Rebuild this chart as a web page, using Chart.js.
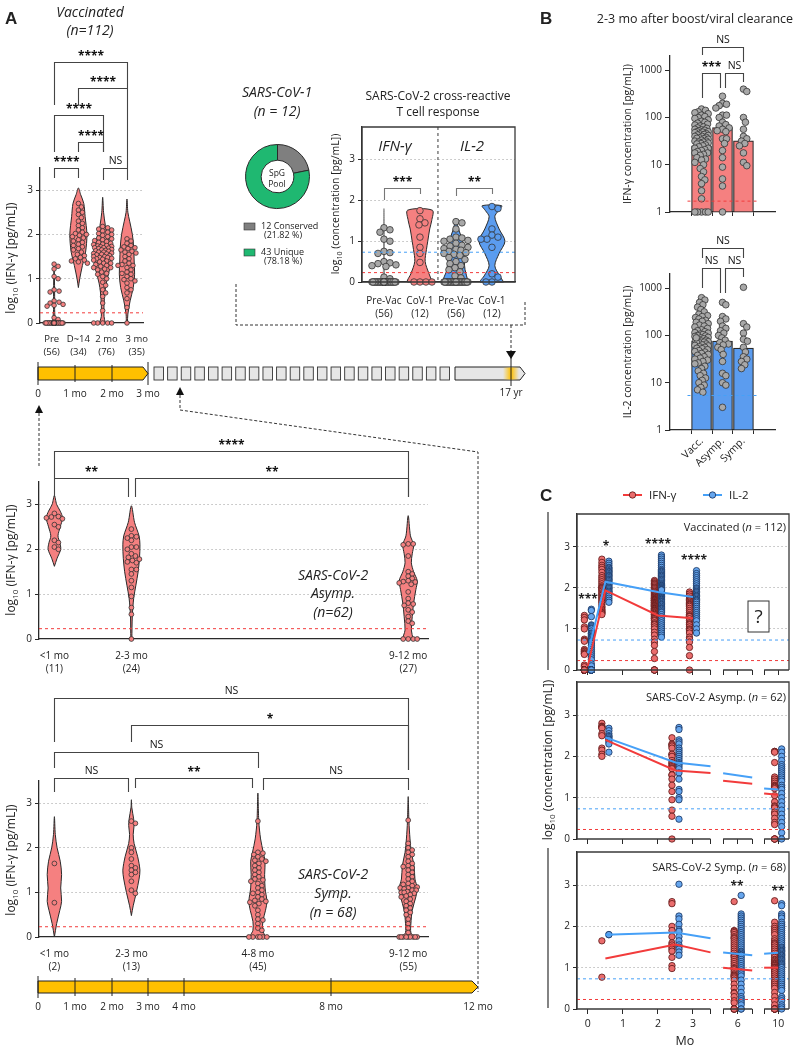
<!DOCTYPE html>
<html lang="en">
<head>
<meta charset="UTF-8">
<title>SARS-CoV-2 T cell responses</title>
<style>
  body { margin: 0; background: #fff; }
  #fig { position: relative; width: 798px; height: 1050px; overflow: hidden; }
  #fig canvas { position: absolute; left: 0; top: 0; }
  #deco { position: absolute; left: 0; top: 0; z-index: 10; pointer-events: none; }
  #deco text { font-family: 'Open Sans', sans-serif; fill: #222; }
</style>
<script src="https://cdn.jsdelivr.net/npm/chart.js"></script>
</head>
<body>
<div id="fig">
<svg id="deco" width="798" height="1050">
  <defs>
    <linearGradient id="glow" x1="0" x2="1" y1="0" y2="0">
      <stop offset="0" stop-color="#ffc000" stop-opacity="0"/>
      <stop offset="0.5" stop-color="#ffc000" stop-opacity="1"/>
      <stop offset="1" stop-color="#ffc000" stop-opacity="0"/>
    </linearGradient>
  </defs>
  <!-- panel letters -->
  <g font-weight="bold" font-size="17">
    <text x="5" y="24" style="font-family: 'Liberation Sans', Arial, sans-serif">A</text>
    <text x="540" y="24" style="font-family: 'Liberation Sans', Arial, sans-serif">B</text>
    <text x="540" y="501" style="font-family: 'Liberation Sans', Arial, sans-serif">C</text>
  </g>
  <!-- italic titles -->
  <g font-style="italic" font-size="14" text-anchor="middle">
    <text x="90" y="17">Vaccinated</text>
    <text x="90" y="35">(n=112)</text>
    <text x="277" y="97">SARS-CoV-1</text>
    <text x="277" y="116">(n = 12)</text>
    <text x="395" y="151" font-size="15">IFN-γ</text>
    <text x="472" y="151" font-size="15">IL-2</text>
    <text x="333" y="580">SARS-CoV-2</text>
    <text x="333" y="598">Asymp.</text>
    <text x="333" y="617">(n=62)</text>
    <text x="333" y="879">SARS-CoV-2</text>
    <text x="333" y="898">Symp.</text>
    <text x="333" y="917">(n = 68)</text>
  </g>
  <g text-anchor="middle" font-size="12">
    <text x="438" y="100">SARS-CoV-2 cross-reactive</text>
    <text x="438" y="116">T cell response</text>
    <text x="695" y="23" font-size="12.5">2-3 mo after boost/viral clearance</text>
    <text x="277" y="176" font-size="8.5">SpG</text>
    <text x="277" y="187" font-size="8.5">Pool</text>
  </g>
  <!-- donut legend -->
  <rect x="244" y="223" width="11" height="7" fill="#7f7f7f" stroke="#333" stroke-width="0.6"/>
  <rect x="244" y="249" width="11" height="7" fill="#1fb871" stroke="#333" stroke-width="0.6"/>
  <g font-size="9">
    <text x="261" y="229">12 Conserved</text>
    <text x="264" y="238">(21.82 %)</text>
    <text x="261" y="255">43 Unique</text>
    <text x="264" y="264">(78.18 %)</text>
  </g>
  <!-- y titles -->
  <g text-anchor="middle" font-size="12">
    <text transform="translate(15,258) rotate(-90)">log<tspan font-size="8" dy="3">10</tspan><tspan dy="-3"> (IFN-γ [pg/mL])</tspan></text>
    <text transform="translate(15,560) rotate(-90)">log<tspan font-size="8" dy="3">10</tspan><tspan dy="-3"> (IFN-γ [pg/mL])</tspan></text>
    <text transform="translate(15,860) rotate(-90)">log<tspan font-size="8" dy="3">10</tspan><tspan dy="-3"> (IFN-γ [pg/mL])</tspan></text>
    <text transform="translate(339,204) rotate(-90)" font-size="10.5">log<tspan font-size="7" dy="3">10</tspan><tspan dy="-3"> (concentration [pg/mL])</tspan></text>
    <text transform="translate(631,134) rotate(-90)" font-size="10.5">IFN-γ concentration [pg/mL])</text>
    <text transform="translate(631,352) rotate(-90)" font-size="10.5">IL-2 concentration [pg/mL])</text>
    <text transform="translate(552,760) rotate(-90)">log<tspan font-size="8" dy="3">10</tspan><tspan dy="-3"> (concentration [pg/mL])</tspan></text>
  </g>
  <path d="M548,512 V670 M548,848 V1008" stroke="#333" stroke-width="1.2" fill="none"/>

  <!-- top timeline -->
  <g id="squares" fill="#e6e6e6" stroke="#333" stroke-width="0.9"></g>
  <g stroke="#222" stroke-width="1">
    <polygon points="38,367 143,367 148,373.5 143,380 38,380" fill="#ffc000"/>
    <polygon points="455,367 520,367 525,373.5 520,380 455,380" fill="#e6e6e6"/>
  </g>
  <rect x="503" y="367.5" width="16" height="12" fill="url(#glow)"/>
  <g stroke="#222" stroke-width="1">
    <line x1="38" y1="362" x2="38" y2="385"/>
    <line x1="75" y1="365" x2="75" y2="382"/>
    <line x1="112" y1="365" x2="112" y2="382"/>
    <line x1="148" y1="362" x2="148" y2="385"/>
    <line x1="511" y1="354" x2="511" y2="386"/>
  </g>
  <g font-size="10" text-anchor="middle">
    <text x="38" y="397">0</text>
    <text x="75" y="397">1 mo</text>
    <text x="112" y="397">2 mo</text>
    <text x="148" y="397">3 mo</text>
    <text x="511" y="396">17 yr</text>
  </g>

  <!-- bottom timeline -->
  <polygon points="38,981 472,981 478,987 472,993 38,993" fill="#ffc000" stroke="#222" stroke-width="1"/>
  <g stroke="#222" stroke-width="1">
    <line x1="38" y1="976" x2="38" y2="998"/>
    <line x1="75" y1="978" x2="75" y2="996"/>
    <line x1="112" y1="978" x2="112" y2="996"/>
    <line x1="148" y1="978" x2="148" y2="996"/>
    <line x1="184" y1="978" x2="184" y2="996"/>
    <line x1="331" y1="978" x2="331" y2="996"/>
  </g>
  <g font-size="10" text-anchor="middle">
    <text x="38" y="1010">0</text>
    <text x="75" y="1010">1 mo</text>
    <text x="112" y="1010">2 mo</text>
    <text x="148" y="1010">3 mo</text>
    <text x="184" y="1010">4 mo</text>
    <text x="331" y="1010">8 mo</text>
    <text x="478" y="1010">12 mo</text>
  </g>

  <!-- dashed connectors and arrows -->
  <g fill="none" stroke="#333" stroke-width="1" stroke-dasharray="3,2">
    <path d="M236,284 V325 H525 V300"/>
    <path d="M511,325 V351"/>
    <path d="M39,413 V467"/>
    <path d="M180,395 V410 L478,452 V992"/>
  </g>
  <g fill="#111">
    <polygon points="506,351 516,351 511,359"/>
    <polygon points="35,413 43,413 39,405"/>
    <polygon points="176,395 184,395 180,387"/>
  </g>

  <!-- panel C legend and labels -->
  <line x1="623" y1="495" x2="642" y2="495" stroke="#f23b3b" stroke-width="2"/>
  <circle cx="632.5" cy="495" r="3.2" fill="#ea6d6d" stroke="#5b1414" stroke-width="0.8"/>
  <line x1="703" y1="495" x2="722" y2="495" stroke="#46a0f7" stroke-width="2"/>
  <circle cx="712.5" cy="495" r="3.2" fill="#66a6ee" stroke="#15305c" stroke-width="0.8"/>
  <g font-size="11.5">
    <text x="649" y="499">IFN-γ</text>
    <text x="729" y="499">IL-2</text>
  </g>
  <g font-size="11" text-anchor="end">
    <text x="786" y="531">Vaccinated (<tspan font-style="italic">n</tspan> = 112)</text>
    <text x="786" y="701">SARS-CoV-2 Asymp. (<tspan font-style="italic">n</tspan> = 62)</text>
    <text x="786" y="871">SARS-CoV-2 Symp. (<tspan font-style="italic">n</tspan> = 68)</text>
  </g>
  <g font-size="12" font-weight="bold" text-anchor="middle">
    <text x="588" y="603">***</text>
    <text x="606" y="550">*</text>
    <text x="658" y="548">****</text>
    <text x="694" y="564">****</text>
    <text x="737" y="890">**</text>
    <text x="778" y="895">**</text>
  </g>
  <rect x="748" y="601" width="21" height="31" fill="#fff" stroke="#333" stroke-width="1"/>
  <text x="758.5" y="623" font-size="19" text-anchor="middle">?</text>
  <text x="685" y="1045" font-size="12.5" text-anchor="middle">Mo</text>
</svg>
</div>

<script>
// ---------- data (log10 pg/mL) ----------
const IFN_LOD = 0.23;
const IL2_LOD = 0.73;

// Vaccinated cohort, IFN-γ
const vacIfnPre = [1.33,1.28,1.22,1.05,1.0,0.75,0.72,0.7,0.5,0.47,0.45,0.42,0.4,0.38,0.12,0.08,
  0,0,0,0,0,0,0,0,0,0, 0,0,0,0,0,0,0,0,0,0, 0,0,0,0,0,0,0,0,0,0, 0,0,0,0,0,0,0,0,0,0];
const vacIfnD14 = [2.7,2.62,2.55,2.5,2.45,2.38,2.3,2.25,2.2,2.15, 2.1,2.05,2.02,2.0,1.98,1.95,1.92,1.88,1.85,1.82,
  1.78,1.75,1.72,1.68,1.65,1.6,1.55,1.52,1.48,1.45, 1.42,1.4,1.38,1.35];
const vacIfn2mo = [2.18,2.15,2.12,2.1,2.08,2.05,2.02,2.0,1.98,1.95, 1.92,1.9,1.88,1.86,1.84,1.82,1.8,1.78,1.77,1.75,
  1.74,1.73,1.72,1.7,1.7,1.69,1.68,1.66,1.65,1.64, 1.63,1.62,1.6,1.6,1.58,1.57,1.56,1.55,1.54,1.52,
  1.5,1.5,1.48,1.48,1.46,1.45,1.44,1.42,1.4,1.38, 1.35,1.35,1.32,1.3,1.28,1.25,1.25,1.22,1.2,1.15,
  1.12,1.1,1.05,1.0,0.92,0.85,0.75,0.68,0.6,0.45, 0.28,0,0,0,0,0];
const vacIfn3mo = [1.9,1.85,1.8,1.75,1.72,1.7,1.68,1.65,1.62,1.6, 1.58,1.55,1.5,1.45,1.4,1.35,1.32,1.3,1.3,1.25,
  1.2,1.15,1.12,1.1,1.05,1.0,0.98,0.95,0.9,0.8, 0.75,0.68,0.55,0.35,0];

// Vaccinated cohort, IL-2
const vacIl2Pre = [1.48,1.45,1.3,1.1,1.08,1.05,1.02,1.0,0.95,0.9, 0.88,0.85,0.82,0.8,0.78,0.75,0.72,0.7,0.68,0.65,
  0.6,0.55,0.5,0.45,0.4,0.35,0.3,0.25,0.15,0.1, 0,0,0,0,0,0,0,0,0,0, 0,0,0,0,0,0,0,0,0,0, 0,0,0,0,0,0];
const vacIl2D14 = [2.65,2.6,2.55,2.5,2.48,2.45,2.42,2.4,2.38,2.35, 2.32,2.3,2.28,2.25,2.22,2.2,2.18,2.15,2.12,2.1,
  2.08,2.05,2.02,2.0,1.98,1.95,1.92,1.9,1.88,1.85, 1.8,1.75,1.7,1.65];
const vacIl22mo = [2.8,2.75,2.7,2.65,2.6,2.55,2.5,2.45,2.42,2.4, 2.38,2.35,2.32,2.3,2.28,2.25,2.22,2.2,2.18,2.15,
  2.12,2.1,2.08,2.06,2.05,2.03,2.02,2.0,1.99,1.98, 1.96,1.95,1.93,1.92,1.9,1.89,1.88,1.87,1.86,1.85,
  1.84,1.82,1.8,1.79,1.78,1.76,1.75,1.73,1.72,1.7, 1.68,1.66,1.65,1.62,1.6,1.58,1.55,1.52,1.5,1.48,
  1.45,1.42,1.4,1.35,1.3,1.25,1.2,1.15,1.1,1.05, 1.0,0.95,0.9,0.85,0.8,1.95];
const vacIl23mo = [2.42,2.35,2.3,2.25,2.2,2.15,2.1,2.05,2.0,1.98, 1.95,1.92,1.9,1.88,1.85,1.82,1.8,1.78,1.75,1.72,
  1.7,1.68,1.65,1.6,1.55,1.5,1.45,1.4,1.35,1.3, 1.25,1.2,1.1,1.0,0.9];

// SARS-CoV-1 convalescents (cross-reactive response)
const cov1Ifn = [1.75,1.55,1.45,1.4,1.1,0.85,0.7,0.48,0,0,0,0];
const cov1Il2 = [1.85,1.8,1.3,1.15,1.1,1.05,1.05,0.85,0.2,0.12,0,0];

// SARS-CoV-2 asymptomatic (<1 mo, 2-3 mo, 9-12 mo)
const asIfn1 = [2.8,2.73,2.72,2.7,2.68,2.55,2.5,2.2,2.15,2.05,2.0];
const asIfn2 = [2.45,2.3,2.28,2.25,2.2,2.05,2.05,2.0,1.9,1.85,1.82,1.78,1.75,1.72,1.7,1.55,1.55,1.45,1.3,1.15,0.95,0.7,0.55,0];
const asIfn3 = [2.12,2.12,2.1,1.85,1.5,1.45,1.4,1.35,1.3,1.28,1.27,1.25,1.22,1.05,0.9,0.8,0.78,0.75,0.65,0.6,0.5,0.4,0.35,0,0,0,0];
const asIl21 = [2.68,2.62,2.55,2.5,2.48,2.45,2.42,2.4,2.35,2.3,2.1];
const asIl22 = [2.7,2.65,2.4,2.35,2.3,2.2,2.15,2.1,2.05,2.0,1.95,1.9,1.85,1.82,1.8,1.75,1.7,1.6,1.45,1.2,1.15,1.0,0.95,0.48];
const asIl23 = [2.18,2.1,2.0,1.9,1.8,1.75,1.7,1.65,1.6,1.55,1.5,1.45,1.4,1.3,1.25,1.2,1.1,1.0,0.9,0.8,0.7,0.6,0.5,0.4,0.3,0.15,0];

// SARS-CoV-2 symptomatic (<1 mo, 2-3 mo, 4-8 mo, 9-12 mo)
const syIfn1 = [1.65,0.77];
const syIfn2 = [2.6,2.55,2.0,1.9,1.75,1.6,1.55,1.5,1.45,1.4,1.25,1.05,0.98];
const syIfn3 = [2.6,1.9,1.88,1.85,1.8,1.75,1.72,1.7,1.65,1.6, 1.55,1.5,1.45,1.4,1.35,1.3,1.28,1.25,1.2,1.15,
  1.1,1.05,1.0,0.98,0.95,0.9,0.85,0.82,0.8,0.78, 0.75,0.7,0.6,0.5,0.4,0.38,0.3,0.2,0.15, 0,0,0,0,0,0];
const syIfn4 = [2.62,2.1,2.0,1.95,1.9,1.85,1.8,1.7, 1.65,1.6,1.58,1.55,1.5,1.45,1.4,1.35, 1.3,1.25,1.2,1.18,1.15,1.12,1.1,1.1,
  1.08,1.05,1.05,1.02,1.0,1.0,0.98,0.95, 0.92,0.9,0.85,0.8,0.75,0.7,0.65,0.6, 0.55,0.5,0.4,0.3,0.2,0.1, 0,0,0,0,0,0,0,0,0];
const syIl21 = [1.8,1.8];
const syIl22 = [3.02,2.25,2.18,2.05,1.92,1.88,1.75,1.65,1.55,1.5,1.45,1.38,1.3];
const syIl23 = [2.75,2.3,2.25,2.2,2.15,2.1,2.05,2.0,1.95,1.9, 1.85,1.8,1.75,1.7,1.65,1.6,1.55,1.5,1.45,1.4,
  1.38,1.35,1.32,1.3,1.25,1.2,1.15,1.1,1.05,1.0, 0.95,0.9,0.85,0.8,0.7,0.6,0.5,0.4,0.3,0.25, 0.2,0.15,0.1,0,0];
const syIl24 = [2.55,2.5,2.3,2.25,2.2,2.1,2.05,2.0,1.95,1.9, 1.85,1.8,1.75,1.7,1.65,1.6,1.55,1.5,1.48,1.45,
  1.42,1.4,1.38,1.35,1.32,1.3,1.28,1.25,1.22,1.2, 1.18,1.15,1.12,1.1,1.08,1.05,1.02,1.0,0.95,0.9,
  0.85,0.8,0.75,0.7,0.65,0.6,0.55,0.5,0.45,0.3, 0.25,0.2,0.1,0.05,0];

// violin density profiles: [value, relative half width]
const vacViolins = [
  [[0,0.12],[0.3,0.06],[0.7,0.06],[1.0,0.04],[1.35,0]],
  [[0.8,0],[1.0,0.15],[1.3,0.45],[1.6,0.8],[2.0,0.95],[2.4,0.75],[2.7,0.6],[2.9,0.25],[3.05,0]],
  [[0,0.3],[0.15,0.15],[0.4,0.15],[0.7,0.25],[0.9,0.4],[1.2,0.75],[1.5,0.95],[1.75,0.85],[2.0,0.5],[2.2,0.3],[2.5,0.1],[2.84,0]],
  [[0,0.05],[0.2,0.1],[0.5,0.35],[0.8,0.7],[1.1,0.85],[1.4,0.8],[1.7,0.75],[2.0,0.6],[2.3,0.3],[2.5,0.1],[2.8,0]]
];
const crossViolins = [
  [[0,0.05],[0.5,0.03],[1.0,0.03],[1.8,0]],
  [[0,0.95],[0.2,0.7],[0.5,0.4],[0.8,0.5],[1.0,0.6],[1.3,0.75],[1.5,0.9],[1.76,0.95]],
  [[0,0.95],[0.3,0.7],[0.7,0.6],[1.0,0.5],[1.3,0.2],[1.5,0]],
  [[0,0.9],[0.15,0.6],[0.4,0.22],[0.7,0.55],[1.0,1.0],[1.3,0.55],[1.6,0.22],[1.75,0.5],[1.87,0.75]]
];
const asViolins = [
  [[1.62,0],[1.8,0.3],[2.0,0.7],[2.15,0.6],[2.3,0.4],[2.5,0.65],[2.7,0.9],[2.85,0.65],[3.0,0.25],[3.2,0]],
  [[0,0.05],[0.5,0.1],[0.9,0.25],[1.2,0.5],[1.5,0.75],[1.8,0.9],[2.1,0.95],[2.3,0.85],[2.6,0.35],[2.97,0]],
  [[0,0.55],[0.2,0.35],[0.5,0.45],[0.8,0.6],[1.1,0.85],[1.3,1.0],[1.5,0.6],[1.7,0.35],[1.9,0.45],[2.1,0.6],[2.3,0.25],[2.75,0]]
];
const syViolins = [
  [[0,0],[0.3,0.25],[0.6,0.6],[0.8,0.8],[1.1,0.7],[1.4,0.8],[1.7,0.65],[2.0,0.3],[2.3,0.1],[2.7,0]],
  [[0.48,0],[0.7,0.2],[1.0,0.55],[1.3,0.85],[1.5,0.95],[1.8,0.7],[2.1,0.3],[2.3,0.2],[2.5,0.3],[2.65,0.25],[2.9,0.05],[3.08,0]],
  [[0,0.85],[0.15,0.55],[0.35,0.55],[0.6,0.85],[0.8,1.0],[1.1,0.8],[1.4,0.75],[1.7,0.8],[1.9,0.6],[2.2,0.3],[2.6,0.1],[3.23,0]],
  [[0,0.7],[0.1,0.3],[0.3,0.3],[0.6,0.45],[0.9,0.85],[1.1,1.0],[1.3,0.75],[1.6,0.65],[1.9,0.35],[2.2,0.2],[2.6,0.08],[3.15,0]]
];

// group labels and timing (months)
const vacLabels = [['Pre','(56)'],['D~14','(34)'],['2 mo','(76)'],['3 mo','(35)']];
const vacLabelPos = [-0.1, 1.0, 2.16, 3.4];
const crossLabels = [['Pre-Vac','(56)'],['CoV-1','(12)'],['Pre-Vac','(56)'],['CoV-1','(12)']];
const asLabels = [['<1 mo','(11)'],['2-3 mo','(24)'],['9-12 mo','(27)']];
const syLabels = [['<1 mo','(2)'],['2-3 mo','(13)'],['4-8 mo','(45)'],['9-12 mo','(55)']];
const asMonths = [0.45, 2.55, 10.1];
const syMonths = [0.45, 2.55, 6.0, 10.1];
const vacMonthsC = [0, 0.5, 2, 3];
const asMonthsC = [0.5, 2.5, 10];
const syMonthsC = [0.5, 2.5, 6, 10];

// panel B: geometric means (pg/mL)
const bLabels = ['Vacc.', 'Asymp.', 'Symp.'];
const ifnBarGM = [25, 61, 32];
const il2BarGM = [76, 76, 54];

// donut: SpG pool epitopes
const epitopeLabels = ['Conserved', 'Unique'];
const epitopeCounts = [12, 43];

// panel C fitted trends: [month, log10 value]
const vacIfnTrend = [[[0,0.1],[0.5,1.94],[2,1.33],[3,1.26]]];
const vacIl2Trend = [[[0,0.41],[0.5,2.15],[2,1.9],[3,1.78]]];
const asIfnTrend = [[[0.5,2.4],[2.5,1.66],[3.5,1.6]], [[4,1.41],[8,1.34]], [[9,1.1],[10,1.07]]];
const asIl2Trend = [[[0.5,2.46],[2.5,1.85],[3.5,1.76]], [[4,1.59],[8,1.49]], [[9,1.22],[10,1.2]]];
const syIfnTrend = [[[0.5,1.22],[2.5,1.56],[3.5,1.37]], [[4,1.0],[8,0.93]], [[9,1.0],[10,1.0]]];
const syIl2Trend = [[[0.5,1.8],[2.5,1.85],[3.5,1.71]], [[4,1.37],[8,1.3]], [[9,1.34],[10,1.36]]];
const cTickMonths = [0, 1, 2, 3, 3.5, 4, 6, 8, 9, 10];
const cTickLabels = ['0', '1', '2', '3', '', '', '6', '', '', '10'];

// ---------- drawing ----------
const W = 798, H = 1050;
const INK = '#2a2a2a';
const RED = '#f58080', RED_LINE = '#f23b3b', BLUE = '#5b9cef', BLUE_LINE = '#46a0f7', GREY = '#a8a8a8';
const C_RED = '#ea6d6d', C_BLUE = '#66a6ee';

Chart.defaults.font.family = "'Open Sans', sans-serif";
Chart.defaults.font.size = 10;
Chart.defaults.color = '#222';
Chart.defaults.animation = false;
Chart.defaults.responsive = false;
Chart.defaults.plugins.legend.display = false;
Chart.defaults.plugins.tooltip.enabled = false;

// grey boxes of the timeline
const sq = document.getElementById('squares');
for (let i = 0; i < 22; i++) {
  const r = document.createElementNS('http://www.w3.org/2000/svg', 'rect');
  r.setAttribute('x', 154 + i * 13.62); r.setAttribute('y', 367);
  r.setAttribute('width', 9.5); r.setAttribute('height', 13);
  sq.appendChild(r);
}

function pad(l, t, r, b, yw, xh) {
  return { left: l - yw, top: t, right: W - r, bottom: H - b - xh };
}

function newChart(cfg) {
  const c = document.createElement('canvas');
  c.width = W; c.height = H;
  document.getElementById('fig').appendChild(c);
  return new Chart(c, cfg);
}

// broken C axis: months -> display position
function xmap(m) {
  if (m <= 3.5) return m;
  if (m <= 8) return 3.86 + (m - 4) * 0.2075;
  return 5.03 + (m - 9) * 0.4;
}

// simple beeswarm: horizontal pixel offsets so dots do not pile up
function spread(vals, pxY, d, maxHalf) {
  const placed = [];
  const cands = [0];
  for (let k = 1; k <= maxHalf; k++) cands.push(k, -k);
  return vals.map(v => {
    const py = v * pxY;
    let best = 0, bestGap = -1;
    for (const off of cands) {
      let gap = Infinity;
      for (const p of placed) gap = Math.min(gap, Math.hypot(p[0] - off, p[1] - py));
      if (gap >= d) { best = off; break; }
      if (gap > bestGap) { bestGap = gap; best = off; }
    }
    placed.push([best, py]);
    return best;
  });
}

function swarmPts(vals, center, pxX, pxY, d, maxHalf, toY) {
  const offs = spread(vals, pxY, d, maxHalf);
  return vals.map((v, i) => ({ x: center + offs[i] / pxX, y: toY ? toY(v) : v }));
}

function dots(pts, fill, r, stroke) {
  return { data: pts, showLine: false, pointRadius: r, pointHoverRadius: r, pointBackgroundColor: fill,
           pointBorderColor: stroke || '#333', pointBorderWidth: 0.8, clip: false };
}

function refLine(y, x0, x1, color) {
  return { data: [{ x: x0, y }, { x: x1, y }], showLine: true, borderColor: color, borderWidth: 1,
           borderDash: [3, 3], pointRadius: 0, clip: false };
}

function violin(profile, center, half, fill, stroke) {
  const pts = [];
  profile.forEach(([y, w]) => pts.push({ x: center + w * half, y }));
  profile.slice().reverse().forEach(([y, w]) => pts.push({ x: center - w * half, y }));
  pts.push(pts[0]);
  const clean = pts.filter((p, i) => i === 0 || p.x !== pts[i - 1].x || p.y !== pts[i - 1].y);
  return { data: clean, showLine: true, fill: 'shape', backgroundColor: fill, borderColor: stroke || INK,
           borderWidth: 1, pointRadius: 0, tension: 0.3, clip: false };
}

function trend(seg, color) {
  return { data: seg.map(([m, v]) => ({ x: xmap(m), y: v })), showLine: true, borderColor: color,
           borderWidth: 2, pointRadius: 0, clip: false };
}

function yLin(max, w) {
  return {
    type: 'linear', min: 0, max,
    afterFit: s => { s.width = w; },
    ticks: { stepSize: 1, includeBounds: false, padding: 3 },
    grid: { color: c => (c.tick && c.tick.value > 0 ? '#bdbdbd' : 'rgba(0,0,0,0)'), tickColor: INK, tickLength: 4 },
    border: { color: INK, width: 1.3, dash: [1.5, 2.5] }
  };
}

function yLog(w) {
  return {
    type: 'logarithmic', min: 1, max: 2000,
    afterFit: s => { s.width = w; },
    afterBuildTicks: s => { s.ticks = [1, 10, 100, 1000].map(v => ({ value: v })); },
    ticks: { padding: 3, callback: v => String(v) },
    grid: { drawOnChartArea: false, tickLength: 5, tickColor: INK },
    border: { color: INK, width: 1.3 }
  };
}

function xGroups(min, max, pos, labels, h, padTop, size) {
  return {
    type: 'linear', min, max,
    afterFit: s => { s.height = h; },
    afterBuildTicks: s => { s.ticks = pos.map(v => ({ value: v })); },
    ticks: { autoSkip: false, maxRotation: 0, minRotation: 0, padding: padTop,
             font: { size: size || 10, lineHeight: 1.35 }, callback: (v, i) => labels[i] },
    grid: { display: false },
    border: { color: INK, width: 1.3 }
  };
}

// frames, broken axes, dividers and significance brackets
function decor(o) {
  return {
    id: 'decor',
    afterDatasetsDraw(chart) {
      const ctx = chart.ctx, a = chart.chartArea, xs = chart.scales.x;
      ctx.save();
      ctx.lineWidth = 1.3; ctx.strokeStyle = '#3a3a3a';
      if (o.frame) {
        ctx.beginPath();
        ctx.moveTo(a.left, a.bottom); ctx.lineTo(a.left, a.top); ctx.lineTo(a.right, a.top); ctx.lineTo(a.right, a.bottom);
        if (!o.breaks) ctx.lineTo(a.left, a.bottom);
        ctx.stroke();
      }
      if (o.breaks) {
        ctx.beginPath();
        o.breaks.forEach(([u, v]) => { ctx.moveTo(xs.getPixelForValue(u), a.bottom); ctx.lineTo(xs.getPixelForValue(v), a.bottom); });
        ctx.stroke();
      }
      if (o.divider !== undefined) {
        const x = xs.getPixelForValue(o.divider);
        ctx.setLineDash([3, 3]); ctx.lineWidth = 1;
        ctx.beginPath(); ctx.moveTo(x, a.top); ctx.lineTo(x, a.bottom); ctx.stroke();
        ctx.setLineDash([]);
      }
      (o.brackets || []).forEach(([u, v, y, l1, l2, t]) => {
        const x1 = Math.round(xs.getPixelForValue(u)) + 0.5, x2 = Math.round(xs.getPixelForValue(v)) + 0.5;
        ctx.strokeStyle = o.bracketColor || '#444'; ctx.lineWidth = 1.1;
        ctx.beginPath(); ctx.moveTo(x1, l1); ctx.lineTo(x1, y + 0.5); ctx.lineTo(x2, y + 0.5); ctx.lineTo(x2, l2); ctx.stroke();
        ctx.fillStyle = '#111'; ctx.textAlign = 'center'; ctx.textBaseline = 'alphabetic';
        const star = t.indexOf('*') >= 0;
        ctx.font = star ? "bold 12px 'Open Sans', sans-serif" : "10.5px 'Open Sans', sans-serif";
        ctx.fillText(t, (x1 + x2) / 2, star ? y - 2 : y - 4);
      });
      ctx.restore();
    }
  };
}

// ---- A: vaccinated violins ----
const vacIfn = [vacIfnPre, vacIfnD14, vacIfn2mo, vacIfn3mo];
newChart({
  type: 'scatter',
  data: { datasets: [
    refLine(IFN_LOD, -0.58, 3.66, RED_LINE),
    ...vacIfn.map((g, i) => dots(swarmPts(g, i, 24.3, 44.3, 4.3, 9), RED, 2.3)),
    ...vacViolins.map((p, i) => violin(p, i, 9 / 24.3, RED))
  ] },
  options: {
    layout: { padding: pad(40, 168, 143, 323, 40, 50) },
    scales: { x: xGroups(-0.58, 3.66, vacLabelPos, vacLabels, 50, 2, 9.5), y: yLin(3.5, 40) }
  },
  plugins: [decor({ brackets: [
    [0, 3, 62, 105, 88, '****'], [1, 3, 88, 105, 168, '****'], [0, 2, 115, 152, 152, '****'],
    [1, 2, 142, 152, 152, '****'], [0, 1, 168, 178, 178, '****'], [2, 3, 168, 180, 180, 'NS']
  ] })]
});

// ---- A: donut ----
newChart({
  type: 'doughnut',
  data: { labels: epitopeLabels, datasets: [{ data: epitopeCounts, backgroundColor: ['#7f7f7f', '#1fb871'],
          borderColor: INK, borderWidth: 1 }] },
  options: { cutout: '51%', layout: { padding: { left: 245, top: 144, right: W - 310, bottom: H - 209 } } }
});

// ---- A: cross-reactive violins ----
newChart({
  type: 'scatter',
  data: { datasets: [
    refLine(IL2_LOD, -0.61, 3.64, BLUE_LINE),
    refLine(IFN_LOD, -0.61, 3.64, RED_LINE),
    dots(swarmPts(vacIfnPre, 0, 36, 41, 6, 12), GREY, 3.3),
    dots(swarmPts(cov1Ifn, 1, 36, 41, 6, 12), RED, 3.3),
    dots(swarmPts(vacIl2Pre, 2, 36, 41, 6, 12), GREY, 3.3),
    dots(swarmPts(cov1Il2, 3, 36, 41, 6, 12), BLUE, 3.3),
    violin(crossViolins[0], 0, 13 / 36, '#bbb', '#888'),
    violin(crossViolins[1], 1, 13 / 36, RED),
    violin(crossViolins[2], 2, 13 / 36, BLUE),
    violin(crossViolins[3], 3, 13 / 36, BLUE)
  ] },
  options: {
    layout: { padding: pad(362, 127, 515, 282, 35, 50) },
    scales: { x: xGroups(-0.61, 3.64, [0, 1, 2, 3], crossLabels, 50, 4), y: yLin(3.8, 35) }
  },
  plugins: [decor({ frame: true, divider: 1.5, bracketColor: '#777', brackets: [
    [0, 1, 188, 200, 194, '***'], [2, 3, 188, 196, 194, '**']
  ] })]
});

// ---- A: asymptomatic ----
newChart({
  type: 'scatter',
  data: { datasets: [
    refLine(IFN_LOD, 0.03, 10.64, RED_LINE),
    ...[asIfn1, asIfn2, asIfn3].map((g, i) => dots(swarmPts(g, asMonths[i], 36.67, 44.9, 4.4, 9), RED, 2.4)),
    ...asViolins.map((p, i) => violin(p, asMonths[i], 9 / 36.67, RED))
  ] },
  options: {
    layout: { padding: pad(39, 482, 428, 639, 39, 50) },
    scales: { x: xGroups(0.03, 10.64, asMonths, asLabels, 50, 2), y: yLin(3.5, 39) }
  },
  plugins: [decor({ brackets: [
    [0.45, 10.1, 451, 478, 497, '****'], [0.45, 2.45, 478, 497, 497, '**'], [2.65, 10.1, 478, 497, 497, '**']
  ] })]
});

// ---- A: symptomatic ----
newChart({
  type: 'scatter',
  data: { datasets: [
    refLine(IFN_LOD, 0.03, 10.64, RED_LINE),
    ...[syIfn1, syIfn2, syIfn3, syIfn4].map((g, i) => dots(swarmPts(g, syMonths[i], 36.67, 44.5, 4.4, 9), RED, 2.4)),
    ...syViolins.map((p, i) => violin(p, syMonths[i], 9 / 36.67, RED))
  ] },
  options: {
    layout: { padding: pad(39, 781, 428, 937, 39, 40) },
    scales: { x: xGroups(0.03, 10.64, syMonths, syLabels, 40, 2), y: yLin(3.5, 39) }
  },
  plugins: [decor({ brackets: [
    [0.45, 10.1, 698, 742, 770, 'NS'], [2.55, 10.1, 725, 742, 770, '*'], [0.45, 6.0, 752, 768, 768, 'NS'],
    [0.45, 2.45, 778, 792, 792, 'NS'], [2.65, 5.85, 778, 788, 788, '**'], [6.15, 10.1, 778, 790, 790, 'NS']
  ] })]
});

// ---- B: bars with dots (log scale) ----
function bChart(top, bottom, groups, bars, lod, lodColor, barColor, showLabels, brackets) {
  const xh = showLabels ? 45 : 10;
  return newChart({
    type: 'scatter',
    data: { datasets: [
      refLine(10 ** lod, -0.67, 2.67, lodColor),
      ...groups.map((g, i) => dots(swarmPts(g, i, 31.5, 47, 5.5, 10, v => 10 ** v), GREY, 3.3)),
      { type: 'bar', data: bars.map((v, i) => ({ x: i, y: v })), backgroundColor: barColor, borderColor: INK,
        borderWidth: 1.2, barThickness: 20, base: 1 }
    ] },
    options: {
      layout: { padding: pad(670, top, 775, bottom, 48, xh) },
      scales: {
        x: { type: 'linear', min: -0.67, max: 2.67,
             afterFit: s => { s.height = xh; },
             afterBuildTicks: s => { s.ticks = [0, 1, 2].map(v => ({ value: v })); },
             ticks: { display: showLabels, autoSkip: false, minRotation: 45, maxRotation: 45, padding: 1,
                      font: { size: 10.5 }, callback: (v, i) => bLabels[i] },
             grid: { drawOnChartArea: false, tickLength: 4, tickColor: INK },
             border: { color: INK, width: 1.3 } },
        y: yLog(48)
      }
    },
    plugins: [decor({ brackets })]
  });
}
bChart(56, 212, [vacIfn2mo, asIfn2, syIfn2], ifnBarGM, IFN_LOD, RED_LINE, RED, false,
  [[0, 2, 47, 55, 62, 'NS'], [0, 0.88, 73, 98, 88, '***'], [1.1, 2, 73, 88, 82, 'NS']]);
bChart(274, 430, [vacIl22mo, asIl22, syIl22], il2BarGM, IL2_LOD, BLUE_LINE, BLUE, true,
  [[0, 2, 248, 258, 258, 'NS'], [0, 0.9, 268, 288, 293, 'NS'], [1.1, 2, 268, 293, 277, 'NS']]);

// ---- C: kinetics ----
function cChart(top, bottom, ifnCols, il2Cols, months, ifnTrend, il2Trend, showX) {
  const xh = showX ? 40 : 8;
  return newChart({
    type: 'scatter',
    data: { datasets: [
      refLine(IL2_LOD, -0.31, 5.74, BLUE_LINE),
      refLine(IFN_LOD, -0.31, 5.74, RED_LINE),
      ...ifnTrend.map(seg => trend(seg, RED_LINE)),
      ...il2Trend.map(seg => trend(seg, BLUE_LINE)),
      ...ifnCols.map((g, i) => dots(g.map(v => ({ x: xmap(months[i]) - 0.1, y: v })), C_RED, 3.2, '#5b1414')),
      ...il2Cols.map((g, i) => dots(g.map(v => ({ x: xmap(months[i]) + 0.1, y: v })), C_BLUE, 3.2, '#15305c'))
    ] },
    options: {
      layout: { padding: pad(577, top, 789, bottom, 20, xh) },
      scales: {
        x: { type: 'linear', min: -0.31, max: 5.74,
             afterFit: s => { s.height = xh; },
             afterBuildTicks: s => { s.ticks = cTickMonths.map(m => ({ value: xmap(m) })); },
             ticks: { display: showX, autoSkip: false, maxRotation: 0, padding: 4, font: { size: 10.5 },
                      callback: (v, i) => cTickLabels[i] },
             grid: { drawOnChartArea: false, tickLength: 5, tickColor: INK },
             border: { display: false } },
        y: yLin(3.8, 20)
      }
    },
    plugins: [decor({ frame: true, breaks: [[-0.31, xmap(3.5)], [xmap(4), xmap(8)], [xmap(9), 5.74]] })]
  });
}
cChart(514, 670, vacIfn, [vacIl2Pre, vacIl2D14, vacIl22mo, vacIl23mo], vacMonthsC, vacIfnTrend, vacIl2Trend, false);
cChart(682, 839, [asIfn1, asIfn2, asIfn3], [asIl21, asIl22, asIl23], asMonthsC, asIfnTrend, asIl2Trend, false);
cChart(852, 1009, [syIfn1, syIfn2, syIfn3, syIfn4], [syIl21, syIl22, syIl23, syIl24], syMonthsC, syIfnTrend, syIl2Trend, true);
</script>
</body>
</html>
